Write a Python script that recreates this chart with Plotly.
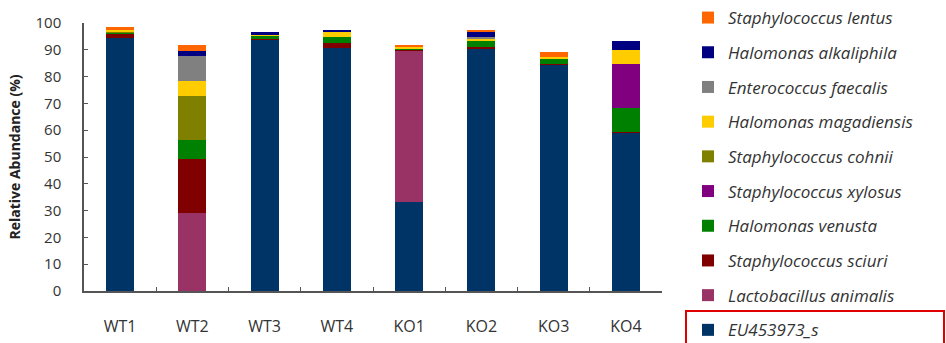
import plotly.graph_objects as go

samples = ["WT1", "WT2", "WT3", "WT4", "KO1", "KO2", "KO3", "KO4"]

# stack order bottom -> top
species = [
    "EU453973_s",
    "Lactobacillus animalis",
    "Staphylococcus sciuri",
    "Halomonas venusta",
    "Staphylococcus xylosus",
    "Staphylococcus cohnii",
    "Halomonas magadiensis",
    "Enterococcus faecalis",
    "Halomonas alkaliphila",
    "Staphylococcus lentus",
]
colors = ["#003366", "#993366", "#800000", "#008000", "#800080",
          "#808000", "#FFCC00", "#808080", "#000080", "#FF6600"]

eu453973_s   = [94.3, 0.0, 93.8, 90.5, 33.1, 90.5, 84.4, 59.0]
l_animalis   = [0.0, 29.2, 0.0, 0.0, 56.5, 0.0, 0.0, 0.0]
s_sciuri     = [1.5, 20.1, 0.3, 1.9, 0.4, 0.5, 0.3, 0.3]
h_venusta    = [0.8, 7.0, 1.2, 2.2, 0.4, 2.6, 1.8, 9.0]
s_xylosus    = [0.0, 0.0, 0.0, 0.0, 0.0, 0.0, 0.0, 16.3]
s_cohnii     = [0.3, 16.5, 0.0, 0.0, 0.0, 0.0, 0.0, 0.0]
h_magadiensis= [0.5, 5.6, 0.2, 1.9, 0.7, 0.6, 1.0, 5.3]
e_faecalis   = [0.0, 9.4, 0.0, 0.0, 0.0, 0.5, 0.0, 0.0]
h_alkaliphila= [0.0, 1.6, 1.0, 0.9, 0.0, 1.8, 0.0, 3.2]
s_lentus     = [1.0, 2.4, 0.0, 0.0, 0.7, 0.9, 1.5, 0.0]

values = [eu453973_s, l_animalis, s_sciuri, h_venusta, s_xylosus,
          s_cohnii, h_magadiensis, e_faecalis, h_alkaliphila, s_lentus]

yticks = [0, 10, 20, 30, 40, 50, 60, 70, 80, 90, 100]

fig = go.Figure()
n = len(species)
for i, (name, col, vals) in enumerate(zip(species, colors, values)):
    fig.add_trace(go.Bar(
        x=samples, y=vals, name=name, legendgroup=name,
        legendrank=100 + (n - i),
        marker=dict(color=col, line=dict(width=0)),
        width=0.39,
    ))

L, R, T, B = 84, 284, 23, 52
pw, ph = 946 - L - R, 343 - T - B

def px_x(px):
    return (px - L) / pw

def px_y(py):
    return (343 - B - py) / ph

fig.update_layout(
    width=946, height=343,
    margin=dict(l=L, r=R, t=T, b=B, pad=0, autoexpand=False),
    barmode="stack",
    plot_bgcolor="white", paper_bgcolor="white",
    font=dict(family="Open Sans, sans-serif", size=15, color="#333333"),
    legend=dict(
        traceorder="grouped",
        tracegroupgap=9.6,
        x=px_x(688), xanchor="left",
        y=px_y(0), yanchor="top",
        maxheight=1000,
        font=dict(family="Open Sans, sans-serif", size=17, color="#333333", style="italic"),
        bgcolor="rgba(0,0,0,0)",
        itemclick=False,
    ),
    xaxis=dict(
        type="category", automargin=False,
        showline=True, linecolor="#555555", linewidth=1.5,
        ticks="inside", tickson="boundaries", ticklen=4, tickcolor="#555555",
        tickfont=dict(size=16, color="#333333"),
        ticklabelstandoff=20,
        showgrid=False, zeroline=False,
    ),
    yaxis=dict(
        range=[0, 100], tickvals=yticks, automargin=False,
        showline=True, linecolor="#555555", linewidth=1.5,
        ticks="inside", ticklen=4, tickcolor="#555555",
        tickfont=dict(size=15, color="#333333"),
        ticklabelstandoff=18,
        showgrid=False, zeroline=False,
        title=dict(text="<b>Relative Abundance (%)</b>", font=dict(size=14, color="#222222"), standoff=12),
    ),
    shapes=[dict(
        type="rect", xref="paper", yref="paper",
        x0=px_x(686), x1=px_x(944), y0=px_y(311), y1=px_y(360),
        line=dict(color="#E00000", width=2), fillcolor="rgba(0,0,0,0)",
        layer="above",
    )],
)

fig.write_html("out.html")
